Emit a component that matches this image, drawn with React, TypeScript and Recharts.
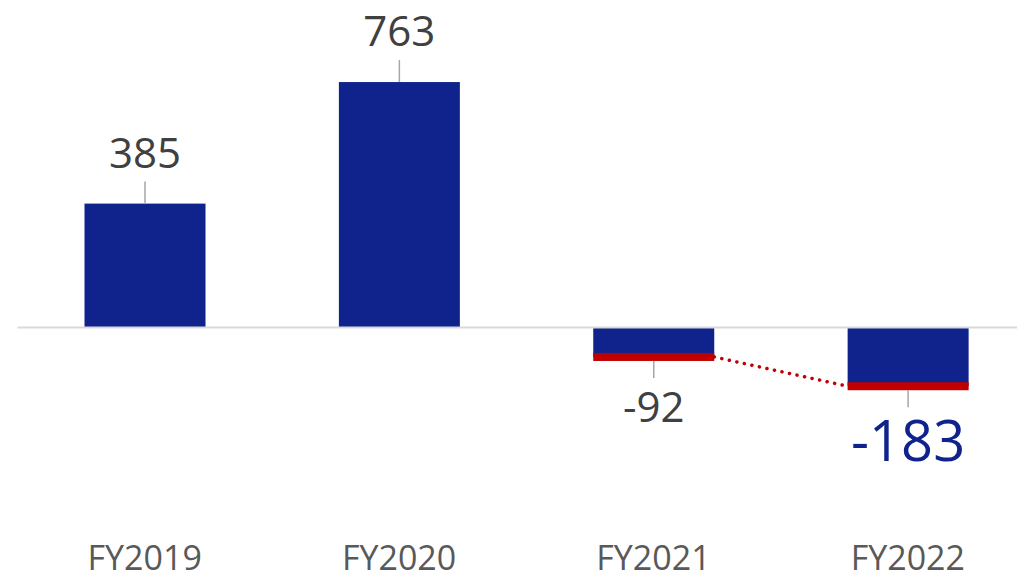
import { BarChart, Bar, XAxis, YAxis, ReferenceLine, LabelList } from 'recharts'

const categories = ['FY2019', 'FY2020', 'FY2021', 'FY2022']
const values = [385, 763, -92, -183]

const data = categories.map((name, i) => ({ name, value: values[i] }))

const BLUE = '#10238c'
const RED = '#c00000'
const FONT = '"Open Sans", sans-serif'

// bottom edges of negative bars, filled while the bars render (left to right)
const capEnds: Record<number, { right: number; y: number }> = {}

function BarShape(props: any) {
   const { x, y, width, height, index } = props
   const top = Math.min(y, y + height)
   const bottom = Math.max(y, y + height)
   const v = values[index]
   if (v >= 0) {
      return <rect x={x} y={top} width={width} height={bottom - top} fill={BLUE} />
   }
   capEnds[index] = { right: x + width, y: bottom }
   const prev = capEnds[index - 1]
   return (
      <g>
         <rect x={x} y={top} width={width} height={bottom - top} fill={BLUE} />
         <rect x={x} y={bottom - 4} width={width} height={8} fill={RED} />
         {prev && values[index - 1] < 0 && (
            <line
               x1={prev.right}
               y1={prev.y}
               x2={x}
               y2={bottom}
               stroke={RED}
               strokeWidth={3.5}
               strokeLinecap="round"
               strokeDasharray="0.1 7.6"
            />
         )}
      </g>
   )
}

function ValueLabel(props: any) {
   const { x, y, width, height, index } = props
   const v = values[index]
   const cx = x + width / 2
   const top = Math.min(y, y + height)
   const bottom = Math.max(y, y + height)
   const last = index === values.length - 1
   const fs = last ? 56 : 42
   const color = last ? BLUE : '#404040'
   if (v >= 0) {
      return (
         <g>
            <line x1={cx} y1={top - 22} x2={cx} y2={top} stroke="#a6a6a6" strokeWidth={1.5} />
            <text x={cx} y={top - 36} textAnchor="middle" fontSize={fs} fill={color} fontFamily={FONT}>
               {v}
            </text>
         </g>
      )
   }
   const lineEnd = bottom + 21
   return (
      <g>
         <line x1={cx} y1={bottom + 4} x2={cx} y2={lineEnd} stroke="#a6a6a6" strokeWidth={1.5} />
         <text
            x={cx}
            y={lineEnd + 14 + fs * 0.714}
            textAnchor="middle"
            fontSize={fs}
            fill={color}
            fontFamily={FONT}
         >
            {v}
         </text>
      </g>
   )
}

function CategoryTick(props: any) {
   const { x, y, payload } = props
   return (
      <text x={x} y={y + 114} textAnchor="middle" fontSize={34} fill="#595959" fontFamily={FONT}>
         {payload.value}
      </text>
   )
}

export default function App() {
   return (
      <div
         style={{
            position: 'absolute',
            left: 0,
            top: 0,
            width: 1017,
            height: 572,
            overflow: 'hidden',
            background: '#fff',
         }}
      >
         <BarChart
            width={1035}
            height={572}
            data={data}
            margin={{ top: 38, right: 0, bottom: 86, left: 17.5 }}
         >
            <XAxis
               dataKey="name"
               axisLine={false}
               tickLine={false}
               tickSize={0}
               tickMargin={0}
               height={30}
               tick={<CategoryTick />}
               interval={0}
            />
            <YAxis hide domain={[-400, 900]} />
            <ReferenceLine y={0} stroke="#d9d9d9" strokeWidth={2} />
            <Bar dataKey="value" barSize={121} shape={BarShape} isAnimationActive={false}>
               <LabelList dataKey="value" content={<ValueLabel />} />
            </Bar>
         </BarChart>
      </div>
   )
}
